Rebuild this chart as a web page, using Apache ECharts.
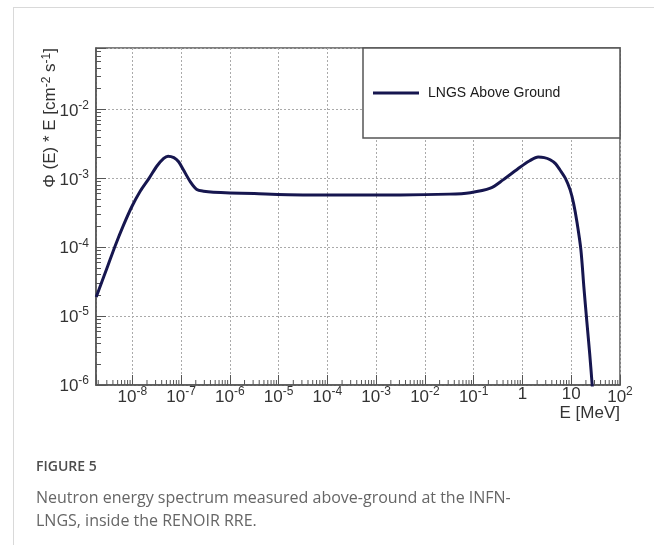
<!DOCTYPE html>
<html>
<head>
<meta charset="utf-8">
<style>
  html, body { margin: 0; padding: 0; background: #fff; }
  #card { position: absolute; left: 13px; top: 7px; width: 641px; height: 538px;
          border-left: 1px solid #d9d9d9; border-top: 1px solid #d9d9d9; }
  #main { position: absolute; left: 0; top: 0; width: 654px; height: 545px; }
</style>
</head>
<body>
<div id="card"></div>
<div id="main"></div>
<script src="https://cdn.jsdelivr.net/npm/echarts@6.0.0/dist/echarts.min.js"></script>
<script>
// neutron spectrum: E in MeV, Phi(E)*E in cm^-2 s^-1
const energy = [
  1.82e-9, 3.0e-9, 4.5e-9, 6.6e-9, 9.8e-9, 1.45e-8, 2.2e-8, 3.2e-8, 4.4e-8, 5.4e-8,
  7.1e-8, 8.9e-8, 1.12e-7, 1.55e-7, 2.1e-7, 2.9e-7, 4.6e-7, 3.16e-6, 3.16e-5, 3.16e-4,
  3.16e-3, 3.16e-2, 8.5e-2, 0.22, 0.40, 0.89, 1.41, 2.1, 2.8, 3.7,
  4.8, 5.9, 7.6, 9.5, 11.2, 13.2, 15.8, 18.2, 20.9, 24.0,
  26.9, 29.5
];
const flux = [
  1.9e-5, 4.9e-5, 1.07e-4, 2.09e-4, 3.9e-4, 6.5e-4, 1.0e-3, 1.51e-3, 1.95e-3, 2.1e-3,
  2.0e-3, 1.74e-3, 1.32e-3, 8.9e-4, 6.9e-4, 6.5e-4, 6.3e-4, 6.0e-4, 5.75e-4, 5.75e-4,
  5.75e-4, 5.9e-4, 6.2e-4, 7.2e-4, 9.5e-4, 1.45e-3, 1.8e-3, 2.04e-3, 2.0e-3, 1.86e-3,
  1.62e-3, 1.32e-3, 1.0e-3, 6.8e-4, 4.3e-4, 2.24e-4, 9.1e-5, 2.6e-5, 8.3e-6, 2.75e-6,
  1.0e-6, 4.0e-7
];
const seriesName = 'LNGS Above Ground';
const xRange = [1.8e-9, 100];
const yRange = [1e-6, 0.078];

// minor tick positions on the energy axis: 2..9 x 10^n
const xMinor = [];
for (let n = -9; n <= 1; n++) {
  for (let k = 2; k <= 9; k++) {
    const v = k * Math.pow(10, n);
    if (v > xRange[0] && v < xRange[1]) xMinor.push(v);
  }
}

const dom = document.getElementById('main');
const myChart = echarts.init(dom);

// decades only, 10^n with a raised exponent
const powLabel = (n) => {
  const r = Math.round(n);
  if (Math.abs(n - r) > 1e-6) return '';
  if (r === 0) return '{b|1}';
  if (r === 1) return '{b|10}';
  return '{b|10}{sup|' + r + '}';
};

const labelRich = {
  b: { fontFamily: 'Liberation Sans', fontSize: 17, lineHeight: 17, color: '#333', verticalAlign: 'bottom' },
  sup: { fontFamily: 'Liberation Sans', fontSize: 12, lineHeight: 20, color: '#333', verticalAlign: 'top', padding: [0, 0, 8, 0] }
};

const frame = '#555';
const gridLine = { show: true, lineStyle: { color: '#aaa', type: [2, 2], width: 1 } };

const option = {
  animation: false,
  grid: { left: 96, top: 48, right: 34, bottom: 160, show: true, borderColor: frame, borderWidth: 1.5 },
  legend: {
    left: 363, top: 48,
    padding: [38, 10, 38, 10],
    itemWidth: 46, itemHeight: 3,
    icon: 'rect',
    textStyle: { fontFamily: 'Liberation Sans', fontSize: 14, color: '#1a1a1a', padding: [0, 0, 0, 4] },
    data: [seriesName]
  },
  xAxis: [
    {
      // carries the data
      type: 'log', position: 'bottom',
      min: xRange[0], max: xRange[1],
      axisLine: { show: false }, axisTick: { show: false }, axisLabel: { show: false }, splitLine: { show: false }
    },
    {
      // decades of the same range, for labels, ticks and grid
      type: 'value', position: 'bottom',
      min: Math.log10(xRange[0]), max: Math.log10(xRange[1]),
      splitNumber: 10,
      axisLine: { onZero: false, lineStyle: { color: frame, width: 1.5 } },
      axisTick: { inside: true, length: 10, lineStyle: { color: frame } },
      splitLine: gridLine,
      axisLabel: { formatter: powLabel, rich: labelRich, margin: 1, showMinLabel: true, showMaxLabel: true, hideOverlap: false }
    }
  ],
  yAxis: {
    type: 'log',
    min: yRange[0], max: yRange[1],
    axisLine: { show: true, onZero: false, lineStyle: { color: frame, width: 1.5 } },
    axisTick: { show: true, inside: true, length: 10, lineStyle: { color: frame } },
    minorTick: { show: true, splitNumber: 9, length: 5, lineStyle: { color: frame } },
    splitLine: gridLine,
    axisLabel: { formatter: (v) => powLabel(Math.log10(v)), rich: labelRich, margin: 7, hideOverlap: false }
  },
  graphic: [
    {
      type: 'rect', z: 3,
      shape: { x: 363, y: 48, width: 257, height: 90 },
      style: { fill: '#fff', stroke: frame, lineWidth: 1.5 }
    },
    {
      type: 'text', x: 50, y: 48, rotation: Math.PI / 2,
      style: {
        text: 'Φ (E) * E [cm{sup|-2} s{sup|-1}]',
        align: 'right', verticalAlign: 'middle',
        fontFamily: 'Liberation Sans', fontSize: 17, fill: '#333',
        rich: { sup: { fontSize: 12, lineHeight: 19, verticalAlign: 'top', padding: [0, 0, 7, 0], fill: '#333' } }
      }
    },
    {
      type: 'text', x: 620, y: 413,
      style: { text: 'E [MeV]', align: 'right', verticalAlign: 'middle', fontFamily: 'Liberation Sans', fontSize: 17, fill: '#333' }
    },
    {
      type: 'text', x: 36, y: 467,
      style: { text: 'FIGURE 5', verticalAlign: 'middle', fontFamily: 'Open Sans', fontWeight: 600, fontSize: 14, fill: '#4d4d4d' }
    },
    {
      type: 'text', x: 36, y: 487,
      style: {
        text: 'Neutron energy spectrum measured above-ground at the INFN-\nLNGS, inside the RENOIR RRE.',
        fontFamily: 'Open Sans', fontSize: 16, lineHeight: 23, fill: '#666'
      }
    }
  ],
  series: [
    {
      name: seriesName,
      type: 'line',
      xAxisIndex: 0,
      data: energy.map((e, i) => [e, flux[i]]),
      showSymbol: false,
      smooth: 0.3,
      clip: true,
      lineStyle: { color: '#16164f', width: 3 },
      itemStyle: { color: '#16164f' }
    },
    {
      // minor ticks along the bottom axis
      type: 'custom',
      xAxisIndex: 0,
      silent: true,
      data: xMinor.map((v) => [v, yRange[0]]),
      renderItem: (params, api) => {
        const p = api.coord([api.value(0), api.value(1)]);
        return {
          type: 'line',
          shape: { x1: p[0], y1: p[1], x2: p[0], y2: p[1] - 5 },
          style: { stroke: frame, lineWidth: 1 }
        };
      }
    }
  ]
};

myChart.setOption(option);

window.addEventListener('resize', myChart.resize);
</script>
</body>
</html>
